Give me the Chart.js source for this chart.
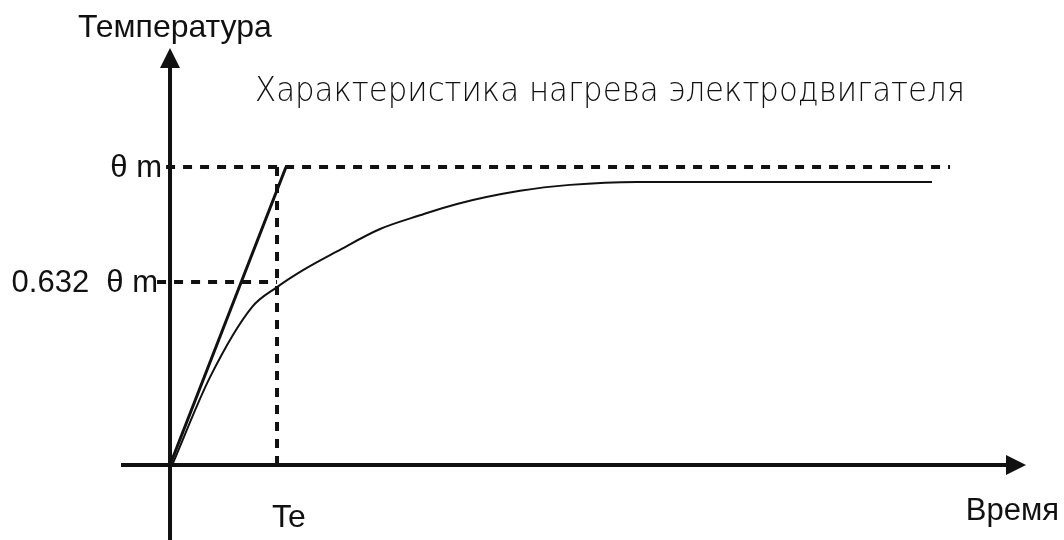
<!DOCTYPE html>
<html>
<head>
<meta charset="utf-8">
<script src="https://cdn.jsdelivr.net/npm/chart.js@4"></script>
<style>
    body { margin: 0; background: #fff; }
    canvas { display: block; }
</style>
</head>
<body>
<canvas id="heatChart" width="1064" height="540"></canvas>
<script>
// ===== Data (time in units of Te, temperature in units of θm) =====
const curveTime = [0.02, 0.374, 0.766, 1.0, 1.243, 1.561, 1.963, 2.336, 2.682, 3.271, 3.738, 4.364, 7.121];
const curveTemp = [0, 0.295, 0.530, 0.597, 0.654, 0.717, 0.792, 0.838, 0.876, 0.920, 0.940, 0.950, 0.950];

const tangentTime = [0, 1.084];
const tangentTemp = [0, 1];

const thetaM = 1;
const level632 = 0.614;
const Te = 1;

const tickValues = [thetaM, level632];
const tickLabels = ["θ m", "0.632  θ m"];

const titleText = "Характеристика нагрева электродвигателя";
const yAxisName = "Температура";
const xAxisName = "Время";
const teLabel = "Te";

// ===== Helpers =====
function toPoints(xs, ys) {
    return xs.map((x, i) => ({ x: x, y: ys[i] }));
}

const ink = "#111";

// ===== Axes, arrows and text drawn on top of the chart =====
const axesPlugin = {
    id: "axesPlugin",
    afterDatasetsDraw(chart) {
        const ctx = chart.ctx;
        const xs = chart.scales.x;
        const ys = chart.scales.y;
        const ox = xs.getPixelForValue(0);
        const oy = ys.getPixelForValue(0);

        ctx.save();
        ctx.strokeStyle = ink;
        ctx.fillStyle = ink;
        ctx.lineWidth = 4;

        // y axis
        const yTip = ys.getPixelForValue(1.399);
        ctx.beginPath();
        ctx.moveTo(ox, chart.height);
        ctx.lineTo(ox, yTip + 16);
        ctx.stroke();
        ctx.beginPath();
        ctx.moveTo(ox, yTip);
        ctx.lineTo(ox - 10, yTip + 20);
        ctx.lineTo(ox + 10, yTip + 20);
        ctx.closePath();
        ctx.fill();

        // x axis
        const xStart = xs.getPixelForValue(-0.458);
        const xTip = xs.getPixelForValue(8.0);
        ctx.beginPath();
        ctx.moveTo(xStart, oy);
        ctx.lineTo(xTip - 16, oy);
        ctx.stroke();
        ctx.beginPath();
        ctx.moveTo(xTip, oy);
        ctx.lineTo(xTip - 20, oy - 10);
        ctx.lineTo(xTip - 20, oy + 10);
        ctx.closePath();
        ctx.fill();

        // tick labels on y
        ctx.font = "31px 'Liberation Sans', Arial, sans-serif";
        ctx.textAlign = "right";
        ctx.textBaseline = "middle";
        tickValues.forEach((v, i) => {
            const offs = i === 0 ? 8 : 12;
            ctx.fillText(tickLabels[i], ox - offs, ys.getPixelForValue(v) + 1);
        });

        // Te label
        ctx.textAlign = "left";
        ctx.font = "32px 'Liberation Sans', Arial, sans-serif";
        ctx.fillText(teLabel, xs.getPixelForValue(Te) - 5, 518);

        // axis names
        ctx.textBaseline = "alphabetic";
        ctx.font = "32px 'Liberation Sans', Arial, sans-serif";
        ctx.fillText(yAxisName, 78, 37);
        ctx.font = "31px 'Liberation Sans', Arial, sans-serif";
        ctx.textAlign = "right";
        ctx.fillText(xAxisName, 1059, 520);

        // title, squeezed to its width in the picture
        ctx.textAlign = "left";
        ctx.font = "200 33px 'DejaVu Sans', sans-serif";
        const sx = 710 / ctx.measureText(titleText).width;
        ctx.translate(255, 101);
        ctx.scale(sx, 1);
        ctx.fillText(titleText, 0, 0);

        ctx.restore();
    }
};

const dashStyle = {
    borderColor: ink,
    borderWidth: 4,
    borderDash: [9, 8],
    pointRadius: 0,
    showLine: true,
    fill: false
};

const ctx = document.getElementById("heatChart").getContext("2d");
new Chart(ctx, {
    type: "scatter",
    data: {
        datasets: [
            {
                label: "θm",
                data: [{ x: -0.037, y: thetaM }, { x: 7.29, y: thetaM }],
                ...dashStyle
            },
            {
                label: "0.632 θm",
                data: [{ x: -0.121, y: level632 }, { x: Te, y: level632 }],
                ...dashStyle
            },
            {
                label: "Te",
                data: [{ x: Te, y: 0 }, { x: Te, y: thetaM }],
                ...dashStyle
            },
            {
                label: "Касательная",
                data: toPoints(tangentTime, tangentTemp),
                borderColor: ink,
                borderWidth: 3,
                pointRadius: 0,
                showLine: true
            },
            {
                label: "Нагрев",
                data: toPoints(curveTime, curveTemp),
                borderColor: ink,
                borderWidth: 2,
                pointRadius: 0,
                showLine: true,
                cubicInterpolationMode: "monotone"
            }
        ]
    },
    options: {
        responsive: false,
        animation: false,
        layout: { padding: 0 },
        plugins: {
            legend: { display: false },
            tooltip: { enabled: false },
            title: { display: false }
        },
        scales: {
            x: { type: "linear", min: -1.589, max: 8.355, display: false },
            y: { type: "linear", min: -0.2517, max: 1.5604, display: false }
        }
    },
    plugins: [axesPlugin]
});
</script>
</body>
</html>
